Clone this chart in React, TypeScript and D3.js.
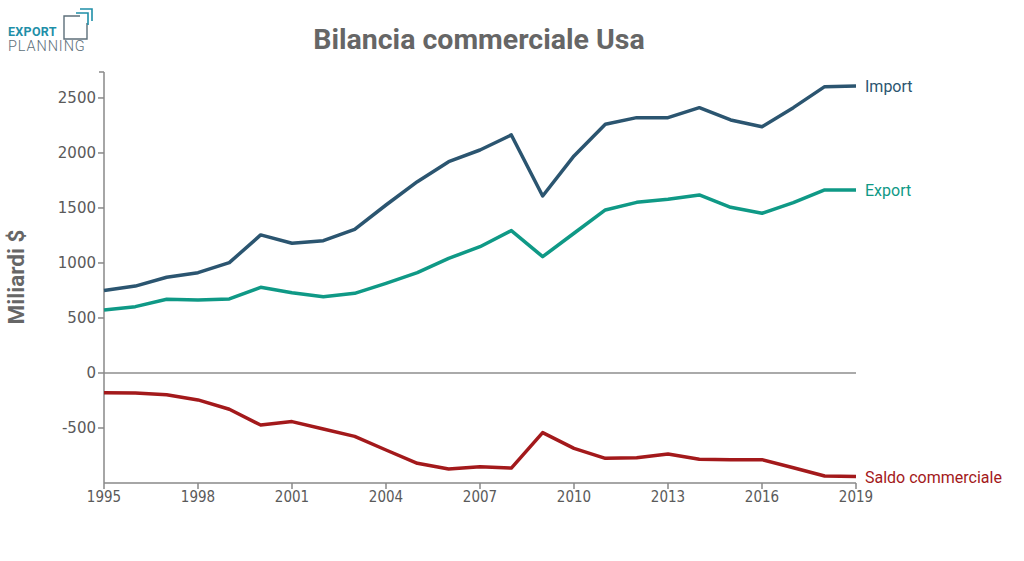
import React from "react";
import * as d3 from "d3";

const years = [1995,1996,1997,1998,1999,2000,2001,2002,2003,2004,2005,2006,2007,2008,2009,2010,2011,2012,2013,2014,2015,2016,2017,2018,2019];
const importVals = [750,790,870,912,1003,1255,1179,1203,1306,1527,1739,1921,2027,2164,1609,1973,2261,2321,2321,2412,2300,2239,2412,2603,2609];
const exportVals = [573,603,670,664,673,779,730,694,724,815,912,1042,1148,1294,1057,1270,1482,1551,1579,1618,1506,1452,1548,1664,1664];
const saldoVals = [-179,-182,-197,-245,-330,-473,-442,-509,-576,-700,-821,-873,-852,-864,-542,-685,-776,-770,-736,-785,-788,-788,-861,-936,-942];
const xTicks = [1995,1998,2001,2004,2007,2010,2013,2016,2019];
const yTicks = [-500,0,500,1000,1500,2000,2500];
const seriesNames = ["Import","Export","Saldo commerciale"];
const seriesColors = ["#2b5570","#0f9986","#a3191b"];
const title = "Bilancia commerciale Usa";
const yLabel = "Miliardi $";

const W = 1024, H = 561;
const X0 = 104, X1 = 856, Y0 = 483, Y1 = 72;

export default function App() {
  const x = d3.scaleLinear().domain([1995, 2019]).range([X0, X1]);
  const y = d3.scaleLinear().domain([-1000, 2736]).range([Y0, Y1]);
  const line = d3.line<number>().x((_, i) => x(years[i])).y(d => y(d));
  const all = [importVals, exportVals, saldoVals];
  const font = "Roboto, 'Open Sans', sans-serif";
  const tickFont = "'DejaVu Sans', sans-serif";
  const axisColor = "#888";
  const textColor = "#5a5a5a";
  return (
    <svg width={W} height={H} style={{ position: "absolute", left: 0, top: 0, background: "#fff" }} fontFamily={font}>
      {/* logo */}
      <g>
        <text x={8} y={36} fontSize={12.5} fontWeight={700} fill="#1f8fa8" letterSpacing={0.3}>EXPORT</text>
        <text x={8} y={51} fontSize={14.5} fontWeight={300} fill="#5d6f7a" letterSpacing={0.9}>PLANNING</text>
        <path d="M80,16 L64,16 L64,39 L87,39 L87,23" fill="none" stroke="#5d6f7a" strokeWidth={1.4} />
        <path d="M76,13 L88,13 L88,25" fill="none" stroke="#1f8fa8" strokeWidth={1.6} />
        <path d="M80,9 L92,9 L92,21" fill="none" stroke="#1f8fa8" strokeWidth={1.6} />
      </g>
      <text x={479} y={49} textAnchor="middle" fontSize={28.5} fontWeight={700} fill="#666">{title}</text>
      <text transform={`translate(24,${277}) rotate(-90)`} textAnchor="middle" fontSize={22.5} fontWeight={700} fill="#666">{yLabel}</text>
      {/* zero line */}
      <line x1={X0} x2={X1} y1={y(0)} y2={y(0)} stroke="#aaa" strokeWidth={2} />
      {/* y axis */}
      <line x1={X0} x2={X0} y1={Y1} y2={Y0} stroke={axisColor} strokeWidth={1.5} />
      <line x1={X0 - 5} x2={X0} y1={Y1} y2={Y1} stroke={axisColor} strokeWidth={1.5} />
      {yTicks.map(t => (
        <g key={t}>
          <line x1={X0 - 6} x2={X0} y1={y(t)} y2={y(t)} stroke={axisColor} strokeWidth={1.5} />
          <text x={X0 - 8} y={y(t)} dy="0.35em" textAnchor="end" fontSize={15} fontFamily={tickFont} fill={textColor}>{t}</text>
        </g>
      ))}
      {/* x axis */}
      <line x1={X0} x2={X1} y1={Y0} y2={Y0} stroke={axisColor} strokeWidth={1.5} />
      {xTicks.map(t => (
        <g key={t}>
          <line x1={x(t)} x2={x(t)} y1={Y0} y2={Y0 + 6} stroke={axisColor} strokeWidth={1.5} />
          <text x={x(t)} y={Y0 + 19} textAnchor="middle" fontSize={15} fontFamily={tickFont} fill={textColor} transform={`translate(${x(t)},0) scale(0.9,1) translate(${-x(t)},0)`}>{t}</text>
        </g>
      ))}
      {all.map((vals, i) => (
        <path key={i} d={line(vals) || ""} fill="none" stroke={seriesColors[i]} strokeWidth={3.5} strokeLinejoin="round" />
      ))}
      {all.map((vals, i) => (
        <text key={"l" + i} x={X1 + 9} y={y(vals[vals.length - 1])} dy="0.4em" fontSize={16} fill={seriesColors[i]}>{seriesNames[i]}</text>
      ))}
    </svg>
  );
}
